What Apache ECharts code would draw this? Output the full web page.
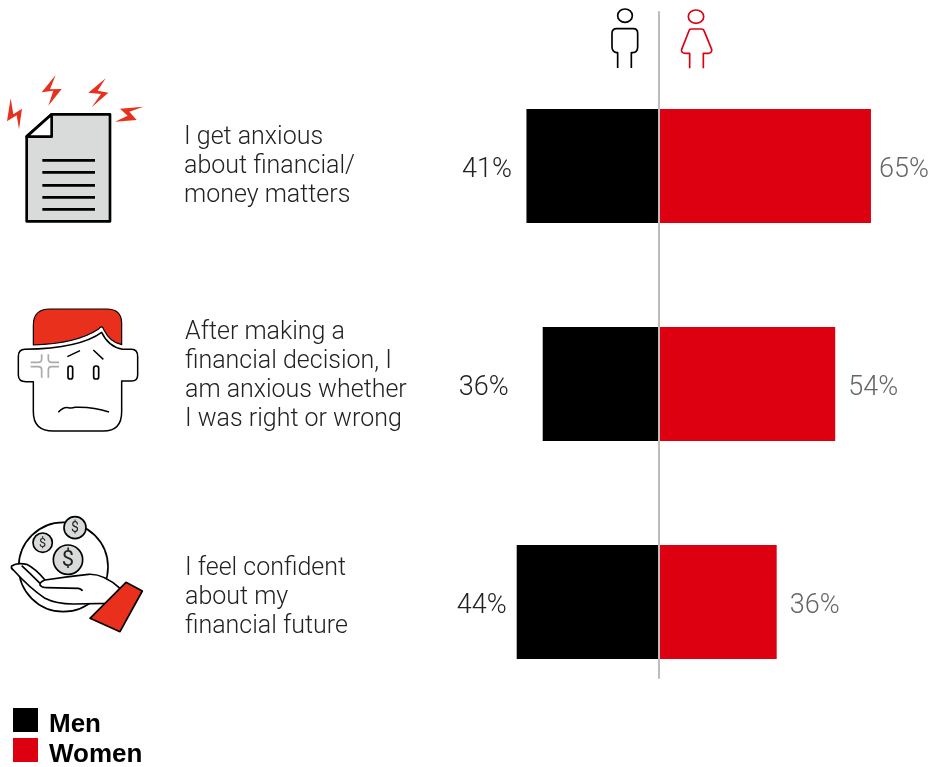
<!DOCTYPE html>
<html>
<head>
<meta charset="utf-8">
<style>html,body{margin:0;padding:0;background:#fff}#chart{width:930px;height:767px}</style>
<script src="https://cdn.jsdelivr.net/npm/echarts@6/dist/echarts.min.js"></script>
</head>
<body>
<div id="chart"></div>
<script>
// Survey statements and the share of each group agreeing, in percent
const statements = [
  ['I get anxious', 'about financial/', 'money matters'],
  ['After making a', 'financial decision, I', 'am anxious whether', 'I was right or wrong'],
  ['I feel confident', 'about my', 'financial future']
];
const men = [41, 36, 44];
const women = [65, 54, 36];
const seriesNames = ['Men', 'Women'];

// Layout of the text blocks and value labels
const textBlocks = [{ x: 184, y: 138 }, { x: 185, y: 333 }, { x: 185, y: 569 }];
const menLabelGaps = [14.5, 34, 10];
const womenLabelGaps = [8, 13, 13];

const BLACK = '#000000';
const RED = '#dc0011';
const ICON_RED = '#e8301c';
const GREY_FILL = '#d9dbda';
const FONT = 'Roboto, "Liberation Sans", sans-serif';

// Legend swatch: a 25x24 square at the top of a taller box, so the text sits lower than its centre
const SWATCH = 'path://M0,0H25V24H0ZM0,33L0.01,33Z';

// Icon artwork is authored on a 3x canvas and scaled down by its group
function iconGroup(x, y, children) {
  return { type: 'group', x, y, scaleX: 1 / 3, scaleY: 1 / 3, silent: true, children };
}
function path(d, fill, stroke, lineWidth) {
  return {
    type: 'path',
    shape: { pathData: d },
    style: { fill: fill || 'none', stroke: stroke || 'none', lineWidth: lineWidth || 0, lineJoin: 'round', lineCap: 'butt' }
  };
}
function circle(cx, cy, r, fill, lw) {
  return { type: 'circle', shape: { cx, cy, r }, style: { fill, stroke: BLACK, lineWidth: lw } };
}
function oval(cx, cy, rx, ry) {
  return 'M' + (cx - rx) + ',' + cy + ' A' + rx + ',' + ry + ' 0 1 1 ' + (cx + rx) + ',' + cy +
    ' A' + rx + ',' + ry + ' 0 1 1 ' + (cx - rx) + ',' + cy + ' Z';
}
function dollar(cx, cy, size) {
  return {
    type: 'text', x: cx, y: cy,
    style: { text: '$', fontSize: size, fontFamily: FONT, fill: '#222', align: 'center', verticalAlign: 'middle' }
  };
}

const documentIcon = iconGroup(0, 60, [
  path('M32,115 L21,184 L50,166 L57,208 L66,146 L40,163 Z', ICON_RED),
  path('M167,45 L125,97 L160,92 L145,137 L185,87 L150,88 Z', ICON_RED),
  path('M317,55 L265,98 L303,102 L275,142 L325,98 L293,92 Z', ICON_RED),
  path('M430,140 L360,146 L383,167 L345,185 L410,180 L388,155 Z', ICON_RED),
  path('M155,163 L330,163 L330,484 L80,484 L80,229 Z', GREY_FILL, BLACK, 8),
  path('M155,163 L155,230 L80,230 Z', '#fff', BLACK, 8),
  path('M127,301 H285 M127,337 H285 M127,376 H285 M127,412 H285 M127,448 H285', null, BLACK, 8)
]);

const faceIcon = iconGroup(0, 295, [
  path('M75,163 Q55,163 55,185 L55,240 Q55,260 78,260 L100,260 L100,350 Q100,408 160,408 L310,408 Q365,408 365,350 L365,258 L395,258 Q413,258 413,240 L413,185 Q413,163 395,163 L368,163 Q325,155 305,112 Q240,160 75,163 Z', '#fff', BLACK, 4.5),
  path('M100,150 L100,90 Q100,42 150,42 L320,42 Q365,42 365,85 L365,149 Q330,142 312,105 Q306,88 296,102 Q230,146 100,150 Z', ICON_RED, BLACK, 3.5),
  path('M92,202 L115,202 Q125,202 125,192 L125,178 M177,202 L155,202 Q145,202 145,192 L145,178 M92,215 L115,215 Q125,215 125,225 L125,248 M177,215 L155,215 Q145,215 145,225 L145,248', null, '#aaaaaa', 5),
  { type: 'rect', shape: { x: 204, y: 213, width: 14, height: 39, r: 7 }, style: { fill: '#fff', stroke: BLACK, lineWidth: 5 } },
  { type: 'rect', shape: { x: 281, y: 213, width: 15, height: 39, r: 7 }, style: { fill: '#fff', stroke: BLACK, lineWidth: 5 } },
  path('M202,185 L240,167 M280,165 L310,193', null, BLACK, 4.5),
  path('M175,352 Q190,335 205,338 Q215,340 225,337 Q280,335 327,351', null, BLACK, 4.5)
]);

const handIcon = iconGroup(0, 505, [
  circle(190, 186, 134, '#fff', 5),
  circle(128, 113, 29, GREY_FILL, 5),
  circle(225, 68, 33, GREY_FILL, 5),
  circle(204, 164, 44, GREY_FILL, 5),
  dollar(128, 115, 38),
  dollar(225, 70, 42),
  dollar(204, 166, 66),
  path('M35,183 Q50,172 80,178 Q105,190 135,225 Q200,215 265,208 Q310,205 360,250 L320,295 L225,297 Q170,298 135,280 Q90,250 40,195 Q32,190 35,183 Z', '#fff', BLACK, 5),
  path('M65,182 Q90,205 120,235 M135,225 Q118,232 120,240 Q125,248 140,248 L235,250 Q245,252 247,258', null, BLACK, 5),
  path('M378,232 L427,258 L360,380 L270,340 Z', ICON_RED, BLACK, 5)
]);

const manIcon = iconGroup(590, 0, [
  path(oval(105, 47, 22, 20), null, BLACK, 5),
  path('M83,204 L83,158 L80,158 Q66,155 66,140 L66,100 Q66,86 80,86 L130,86 Q143,86 143,100 L143,140 Q143,157 128,158 L124,158 L124,204', null, BLACK, 5)
]);

const womanIcon = iconGroup(590, 0, [
  path(oval(318, 50, 23, 20), null, RED, 5),
  path('M299,205 L299,160 L285,160 Q272,158 275,148 L298,90 Q300,87 305,87 L335,87 Q340,87 342,92 L365,148 Q367,158 355,160 L340,160 L340,205', null, RED, 5)
]);

// Statement text blocks, one text element per line
const statementText = statements.flatMap((lines, i) =>
  lines.map((line, j) => ({
    type: 'text',
    x: textBlocks[i].x,
    y: textBlocks[i].y + j * 29,
    silent: true,
    style: { text: line, fontFamily: FONT, fontWeight: 300, fontSize: 25, fill: '#222222', align: 'left', verticalAlign: 'middle' }
  }))
);

const chart = echarts.init(document.getElementById('chart'), null, { renderer: 'canvas' });
const xRange = { type: 'value', min: -60, max: 80, show: false };

chart.setOption({
  animation: false,
  backgroundColor: '#fff',
  legend: {
    orient: 'vertical',
    left: 13,
    top: 708,
    height: 90,
    padding: 0,
    itemGap: -3,
    itemWidth: 25,
    itemHeight: 33,
    icon: SWATCH,
    selectedMode: false,
    data: seriesNames,
    textStyle: { fontFamily: '"Liberation Sans", sans-serif', fontWeight: 'bold', fontSize: 26, color: '#000', padding: [0, 0, 0, 6] }
  },
  grid: [
    { left: 464.7, width: 455, top: 57, height: 654 },
    { left: 464, width: 455, top: 12, height: 666 }
  ],
  xAxis: [
    Object.assign({ gridIndex: 0 }, xRange),
    Object.assign({ gridIndex: 1 }, xRange)
  ],
  yAxis: [
    { gridIndex: 0, type: 'category', inverse: true, show: false, data: statements.map(lines => lines.join(' ')) },
    {
      gridIndex: 1, type: 'value', min: 0, max: 1, z: 5,
      axisLine: { show: true, onZero: true, lineStyle: { color: '#bdbdbd', width: 2 } },
      axisTick: { show: false }, axisLabel: { show: false }, splitLine: { show: false }
    }
  ],
  series: [
    {
      name: seriesNames[0],
      type: 'bar',
      stack: 'share',
      barWidth: 114,
      itemStyle: { color: BLACK },
      data: men.map((v, i) => ({
        value: -v,
        label: { distance: menLabelGaps[i] }
      })),
      label: {
        show: true, position: 'left', offset: [0, 4],
        fontFamily: FONT, fontWeight: 300, fontSize: 27, color: '#222222',
        formatter: p => Math.abs(p.value) + '%'
      }
    },
    {
      name: seriesNames[1],
      type: 'bar',
      stack: 'share',
      barWidth: 114,
      itemStyle: { color: RED },
      data: women.map((v, i) => ({
        value: v,
        label: { distance: womenLabelGaps[i] }
      })),
      label: {
        show: true, position: 'right', offset: [0, 4],
        fontFamily: FONT, fontWeight: 300, fontSize: 27, color: '#666666',
        formatter: p => p.value + '%'
      }
    },
    {
      // Pictograms beside each row and above the centre line
      type: 'custom',
      coordinateSystem: 'none',
      silent: true,
      data: [0],
      renderItem: () => ({
        type: 'group',
        children: [documentIcon, faceIcon, handIcon, manIcon, womanIcon]
      })
    }
  ],
  graphic: { elements: statementText }
});
</script>
</body>
</html>
